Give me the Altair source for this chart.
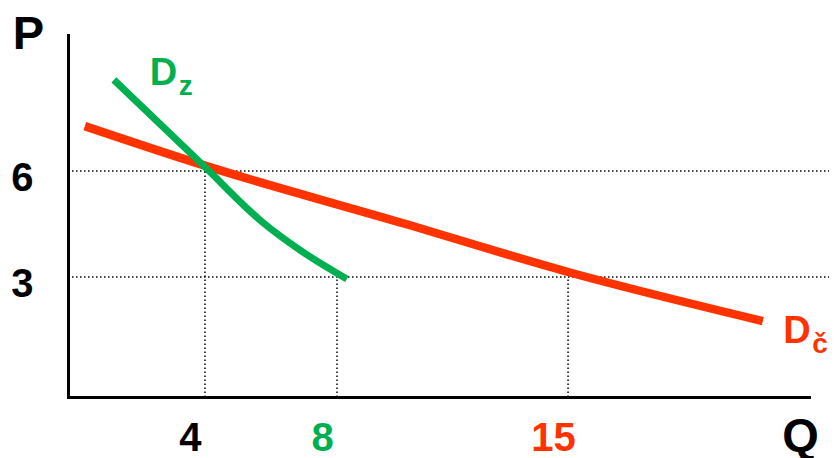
import altair as alt
import pandas as pd

GREEN = "#00B050"
RED = "#FF3300"
FONT = "Liberation Sans"

# Demand curve D_č (red)
red_q = [0.36, 4.0, 10.0, 15.0, 20.9]
red_p = [7.27, 6.15, 4.52, 3.14, 1.75]

# Demand curve D_z (green)
green_q = [1.24, 4.0, 5.73, 6.88, 8.30]
green_p = [8.58, 6.11, 4.56, 3.76, 2.94]

# Reference levels
price_levels = [6, 3]
quantity_marks = [4, 8, 15]
quantity_price = [6, 3, 3]
quantity_colors = ["black", GREEN, RED]

# Curve labels
label_main = ["D", "D"]
label_sub = ["z", "č"]
label_q = [2.33, 21.52]
label_p = [8.43, 1.13]
label_colors = [GREEN, RED]

Q_DOMAIN = [-0.15, 22.3]
P_DOMAIN = [-0.4, 9.85]
Q_RIGHT_EDGE = 22.93

xs = alt.Scale(domain=Q_DOMAIN, nice=False, zero=False)
ys = alt.Scale(domain=P_DOMAIN, nice=False, zero=False)

x_label_color = {
    "condition": [
        {"test": f"datum.value == {quantity_marks[1]}", "value": quantity_colors[1]},
        {"test": f"datum.value == {quantity_marks[2]}", "value": quantity_colors[2]},
    ],
    "value": quantity_colors[0],
}

x_axis = alt.Axis(
    values=quantity_marks, title="Q", domainColor="black", domainWidth=3,
    domainCap="square", ticks=False, tickSize=0, grid=False,
    labelFont=FONT, labelFontSize=40, labelFontWeight="bold",
    labelColor=x_label_color, labelPadding=53, labelBaseline="alphabetic",
    labelOffset=-15, labelAlign="center", labelOverlap=False, labelFlush=False,
    titleFont=FONT, titleFontSize=47, titleFontWeight="bold", titleColor="black",
    titleAngle=0, titleX=732, titleY=53, titleBaseline="alphabetic", titleAlign="center",
)
y_axis = alt.Axis(
    values=price_levels, title="P", domainColor="black", domainWidth=3,
    domainCap="square", ticks=False, tickSize=0, grid=False,
    labelFont=FONT, labelFontSize=40, labelFontWeight="bold", labelColor="black",
    labelPadding=35, labelBaseline="alphabetic", labelOffset=20, labelAlign="right",
    labelOverlap=False, labelFlush=False,
    titleFont=FONT, titleFontSize=47, titleFontWeight="bold", titleColor="black",
    titleAngle=0, titleX=-40, titleY=13, titleBaseline="alphabetic", titleAlign="center",
)


def X(field):
    return alt.X(f"{field}:Q", scale=xs, axis=x_axis)


def Y(field):
    return alt.Y(f"{field}:Q", scale=ys, axis=y_axis)


red_df = pd.DataFrame({"q": red_q, "p": red_p})
green_df = pd.DataFrame({"q": green_q, "p": green_p})
h_df = pd.DataFrame({"p": price_levels, "q0": [Q_DOMAIN[0]] * len(price_levels),
                     "q1": [Q_RIGHT_EDGE] * len(price_levels)})
v_df = pd.DataFrame({"q": quantity_marks, "p0": [P_DOMAIN[0]] * len(quantity_marks),
                     "p1": quantity_price})
lab_df = pd.DataFrame({"q": label_q, "p": label_p, "main": label_main,
                       "sub": label_sub, "c": label_colors})

dots = dict(color="black", strokeWidth=1.5, strokeDash=[1.5, 2.5])

hlines = alt.Chart(h_df).mark_rule(**dots).encode(x=X("q0"), x2="q1", y=Y("p"))
vlines = alt.Chart(v_df).mark_rule(**dots).encode(x=X("q"), y=Y("p0"), y2="p1")

red_line = alt.Chart(red_df).mark_line(color=RED, strokeWidth=8.5, interpolate="monotone").encode(
    x=X("q"), y=Y("p"), order="q:Q")
green_line = alt.Chart(green_df).mark_line(color=GREEN, strokeWidth=7, interpolate="monotone").encode(
    x=X("q"), y=Y("p"), order="q:Q")

main_text = alt.Chart(lab_df).mark_text(
    font=FONT, fontSize=38, fontWeight="bold", align="left", baseline="alphabetic"
).encode(x=X("q"), y=Y("p"), text="main:N", color=alt.Color("c:N", scale=None))

sub_text = alt.Chart(lab_df).mark_text(
    font=FONT, fontSize=28, fontWeight="bold", align="left", baseline="alphabetic", dx=29, dy=10
).encode(x=X("q"), y=Y("p"), text="sub:N", color=alt.Color("c:N", scale=None))

chart = alt.layer(hlines, vlines, red_line, green_line, main_text, sub_text).properties(
    width=741, height=362,
    autosize=alt.AutoSizeParams(type="none"),
    padding={"left": 60, "top": 27, "right": 20, "bottom": 61},
).configure_view(stroke=None)

chart.save("out.html", embed_options={"renderer": "svg", "actions": False})
